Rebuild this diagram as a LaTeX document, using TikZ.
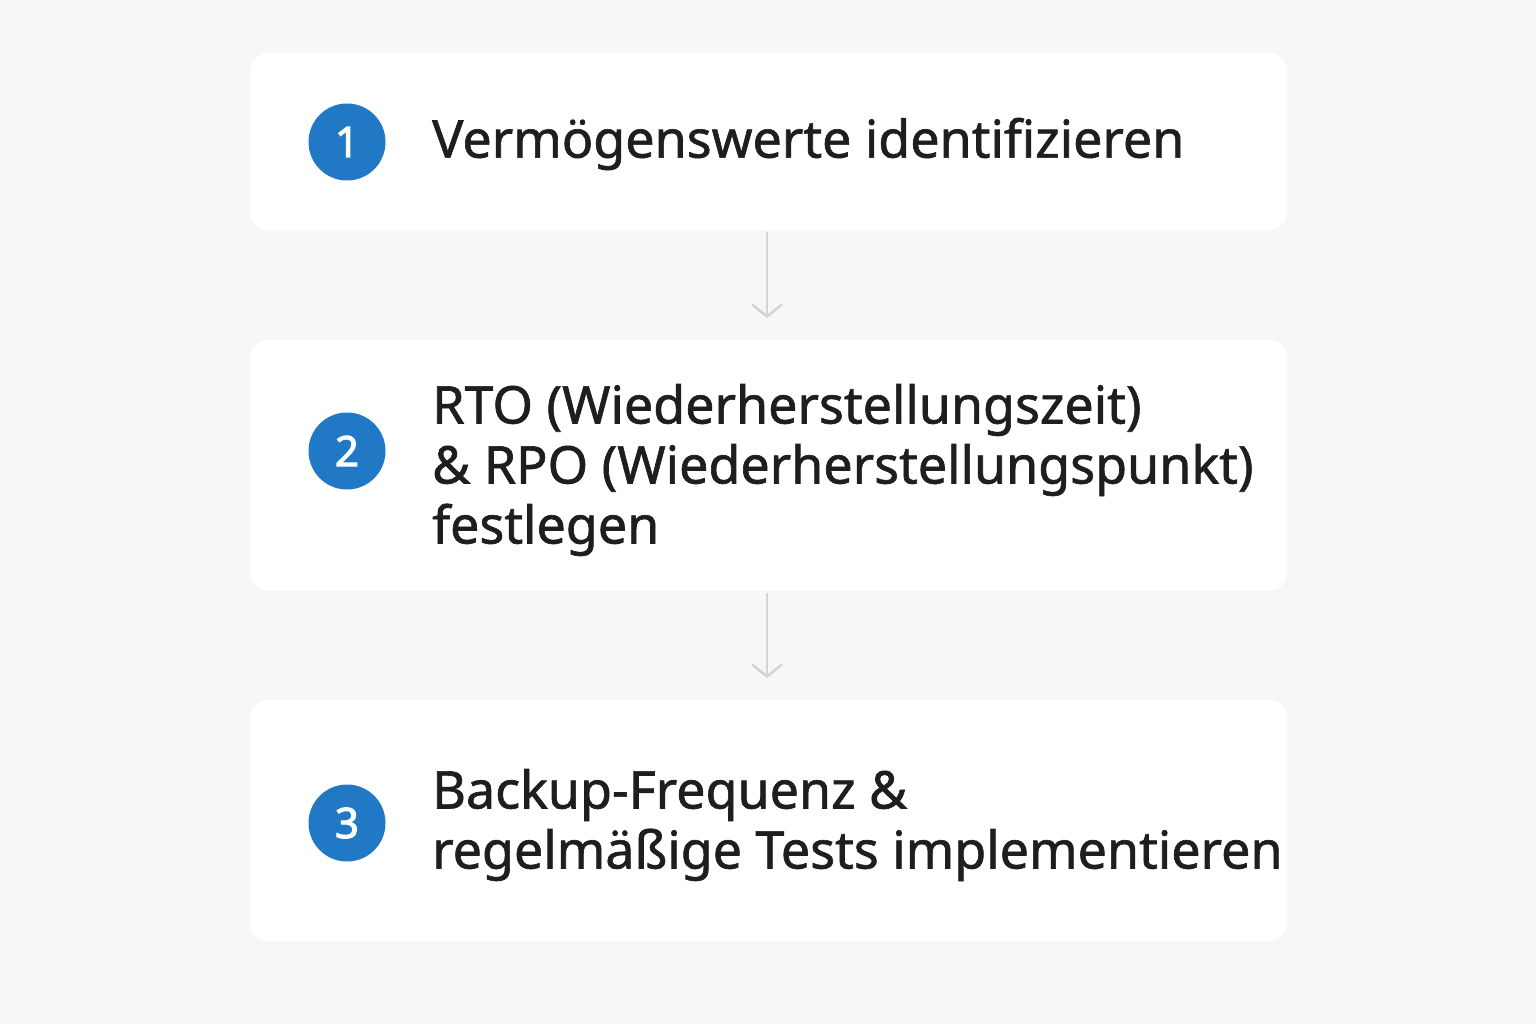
\documentclass[tikz,border=0pt]{standalone}
\usepackage{fontspec}
\setmainfont{Noto Sans}
\newfontfamily\medfont[FakeBold=1.2]{Noto Sans}
\newfontfamily\numfont[FakeBold=2.5]{Noto Sans}
\usetikzlibrary{arrows.meta}
\definecolor{bg}{HTML}{F7F7F7}
\definecolor{bluec}{HTML}{2179C6}
\definecolor{txt}{HTML}{1E1E1E}
\definecolor{arr}{HTML}{D4D4D4}
\tikzset{
  card/.style={fill=white,rounded corners=18pt,draw=none},
  num/.style={circle,fill=bluec,minimum size=77pt,inner sep=0pt,text=white,font=\numfont\fontsize{42}{42}\selectfont},
  lbl/.style={anchor=west,align=left,text=txt,inner sep=0pt,font=\medfont\fontsize{52}{60}\selectfont},
  conn/.style={draw=arr,line width=2.5pt,-{Straight Barb[length=12pt,width=30pt,line width=2.5pt]}}
}
\begin{document}
\begin{tikzpicture}[x=1pt,y=-1pt]
\fill[bg] (0,0) rectangle (1536,1024);
\useasboundingbox (0,0) rectangle (1536,1024);
\filldraw[card] (250,53) rectangle (1287,230);
\filldraw[card] (250,340) rectangle (1287,591);
\filldraw[card] (250,700) rectangle (1287,941);
\node[num] (n1) at (347,142) {1};
\node[num] (n2) at (347,451) {2};
\node[num] (n3) at (347,823) {3};
\node[lbl] (t1) at (432,144) {Vermögenswerte identifizieren};
\node[lbl] (t2) at (432,470) {RTO (Wiederherstellungszeit)\\\& RPO (Wiederherstellungspunkt)\\festlegen};
\node[lbl] (t3) at (432,825) {Backup-Frequenz \&\\regelmäßige Tests implementieren};
\coordinate (a1) at (767,232); \coordinate (b1) at (767,318);
\coordinate (a2) at (767,593); \coordinate (b2) at (767,678);
\draw[conn] (a1) -- (b1);
\draw[conn] (a2) -- (b2);
\end{tikzpicture}
\end{document}
